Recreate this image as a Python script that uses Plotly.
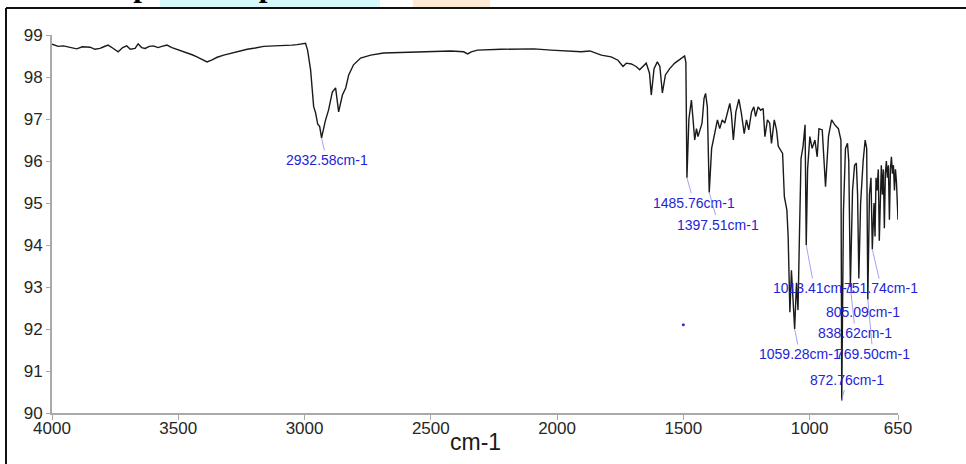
import plotly.graph_objects as go

# IR spectrum of pure lumefantrine: wavenumber (cm-1) vs transmittance (%T)
wavenumber = [
    4000, 3992, 3975, 3955, 3930, 3902, 3880, 3849, 3830, 3810, 3795, 3778,
    3760, 3738, 3720, 3704, 3690, 3671, 3659, 3645, 3631, 3615, 3599, 3580,
    3565, 3545, 3525, 3505, 3485, 3466, 3445, 3426, 3405, 3386, 3366, 3346,
    3320, 3294, 3260, 3227, 3195, 3162, 3120, 3083, 3050, 3029, 3010, 2996,
    2988, 2976, 2964, 2956, 2948, 2940, 2932.58, 2918, 2905, 2890, 2877, 2865,
    2850, 2837, 2825, 2806, 2778, 2738, 2687, 2620, 2553, 2490, 2421, 2370,
    2354, 2340, 2315, 2222, 2150, 2091, 2024, 1960, 1905, 1870, 1850, 1825,
    1786, 1759, 1739, 1726, 1706, 1687, 1673, 1660, 1647, 1634, 1627, 1616,
    1603, 1593, 1583, 1571, 1554, 1534, 1519, 1505, 1495, 1490, 1485.76, 1478,
    1472, 1468, 1462, 1455, 1448, 1442, 1434, 1426, 1418, 1412, 1405, 1397.51,
    1388, 1382, 1373, 1365, 1356, 1346, 1336, 1325, 1316, 1310, 1302, 1292,
    1280, 1270, 1259, 1250, 1241, 1230, 1221, 1214, 1204, 1194, 1184, 1177,
    1167, 1158, 1151, 1140, 1131, 1124, 1114, 1107, 1100, 1090, 1085, 1078,
    1072, 1066, 1059.28, 1052, 1046, 1040, 1034, 1026, 1018, 1013.41, 1008, 999,
    990, 979, 970, 963, 950, 937, 925, 913, 900, 886, 876, 872.76,
    866, 858, 850, 845, 838.62, 830, 822, 815, 810, 805.09, 798, 788,
    780, 774, 769.50, 763, 757, 751.74, 745, 741, 737, 733, 728, 724,
    720, 716, 712, 708, 704, 700, 696, 692, 688, 684, 680, 676,
    672, 668, 664, 660, 656, 652, 650,
]
transmittance = [
    98.78, 98.76, 98.73, 98.74, 98.70, 98.67, 98.72, 98.71, 98.66, 98.68, 98.72, 98.76,
    98.69, 98.60, 98.70, 98.74, 98.66, 98.68, 98.79, 98.70, 98.68, 98.73, 98.74, 98.70,
    98.73, 98.76, 98.70, 98.66, 98.62, 98.58, 98.53, 98.48, 98.41, 98.36, 98.41, 98.47,
    98.52, 98.56, 98.62, 98.66, 98.69, 98.73, 98.74, 98.76, 98.76, 98.77, 98.79, 98.80,
    98.64, 98.17, 97.30, 97.14, 96.88, 96.82, 96.55, 96.95, 97.21, 97.64, 97.74, 97.17,
    97.57, 97.74, 98.05, 98.29, 98.45, 98.52, 98.57, 98.58, 98.59, 98.60, 98.62, 98.60,
    98.55, 98.60, 98.64, 98.66, 98.67, 98.67, 98.64, 98.62, 98.60, 98.62, 98.57, 98.52,
    98.48, 98.40, 98.25, 98.33, 98.31, 98.25, 98.17, 98.26, 98.33, 98.09, 97.57, 98.20,
    98.36, 98.25, 97.62, 98.05, 98.20, 98.33, 98.40, 98.47, 98.50, 98.35, 95.60, 97.00,
    97.29, 97.45, 97.02, 96.50, 96.77, 96.58, 96.74, 96.90, 97.49, 97.61, 97.29, 95.25,
    96.30, 96.50, 96.74, 96.98, 96.77, 96.98, 96.90, 97.17, 97.37, 97.13, 96.50, 97.17,
    97.47, 97.13, 96.65, 96.98, 96.74, 97.17, 97.29, 97.06, 97.29, 97.21, 97.25, 96.58,
    96.98, 96.90, 96.42, 96.98, 96.74, 96.35, 96.26, 96.18, 95.15, 94.83, 94.20, 92.40,
    93.40, 92.60, 92.00, 93.10, 92.45, 94.30, 96.06, 96.35, 96.86, 94.00, 95.80, 96.58,
    96.30, 96.50, 96.10, 96.77, 96.74, 95.39, 96.60, 96.98, 96.86, 96.77, 96.50, 90.30,
    94.80, 96.30, 96.42, 96.00, 93.00, 95.30, 95.90, 95.95, 95.20, 93.20, 95.00, 96.00,
    96.50, 96.30, 92.70, 95.20, 95.60, 93.90, 95.00, 94.20, 95.60, 95.30, 95.80, 94.10,
    95.50, 95.90, 95.20, 95.80, 94.40, 95.70, 96.00, 95.60, 95.90, 94.60, 95.80, 96.10,
    95.70, 95.90, 95.30, 95.80, 95.50, 95.00, 94.60,
]

# labelled absorption bands
peak_wavenumbers = [2932.58, 1485.76, 1397.51, 1013.41, 751.74, 805.09,
                    838.62, 1059.28, 769.50, 872.76]
peak_labels = ["2932.58cm-1", "1485.76cm-1", "1397.51cm-1", "1013.41cm-1",
               "751.74cm-1", "805.09cm-1", "838.62cm-1", "1059.28cm-1",
               "769.50cm-1", "872.76cm-1"]

# stray cursor mark left on the plot
cursor_wavenumber = [1500]
cursor_transmittance = [92.1]

x_ticks = [4000, 3500, 3000, 2500, 2000, 1500, 1000, 650]
y_ticks = [90, 91, 92, 93, 94, 95, 96, 97, 98, 99]
x_title = "cm-1"

# label offsets (pixels) from each band minimum
label_offsets = [(5, 22), (7, 25), (9, 32), (8, 43), (9, 39), (4, 33),
                 (5, 46), (5, 25), (5, 54), (5, -20)]

W, H = 966, 464
L, R, T, B = 52, 68, 35, 51
PW, PH = W - L - R, H - T - B


def px_x(px):
    return (px - L) / PW


def px_y(py):
    return (H - B - py) / PH


fig = go.Figure()
fig.add_trace(go.Scatter(
    x=wavenumber, y=transmittance, mode="lines",
    line=dict(color="#1a1a1a", width=1.4), hoverinfo="skip", showlegend=False,
))
fig.add_trace(go.Scatter(
    x=cursor_wavenumber, y=cursor_transmittance, mode="markers",
    marker=dict(color="#2b2bdc", size=3), hoverinfo="skip", showlegend=False,
))

lookup = dict(zip(wavenumber, transmittance))
annotations = []
for wn, text, (ax, ay) in zip(peak_wavenumbers, peak_labels, label_offsets):
    annotations.append(dict(
        x=wn, y=lookup[wn], xref="x", yref="y", text=text,
        showarrow=True, arrowhead=0, arrowwidth=0.8, arrowcolor="#8a8af0",
        ax=ax, ay=ay, standoff=0, startstandoff=0,
        font=dict(family="Liberation Sans", size=14, color="#2424d6"),
    ))

# x-axis caption under the tick labels
annotations.append(dict(
    x=0.5, y=px_y(442), xref="paper", yref="paper",
    xanchor="center", yanchor="middle", showarrow=False, text=x_title,
    font=dict(family="Liberation Sans", size=23, color="#1a1a1a"),
))

# section heading running off the top edge
annotations.append(dict(
    x=px_x(2), y=px_y(5), xref="paper", yref="paper",
    xanchor="left", yanchor="bottom", showarrow=False,
    text="<b>3.4.2 IR Spectra of pure Lumefantrine</b>",
    font=dict(family="Liberation Serif", size=31, color="#000000"),
))

shapes = [
    dict(type="rect", xref="paper", yref="paper", layer="below",
         x0=px_x(160), x1=px_x(380), y0=px_y(7), y1=px_y(-2),
         fillcolor="#d4fafc", line=dict(width=0)),
    dict(type="rect", xref="paper", yref="paper", layer="below",
         x0=px_x(413), x1=px_x(490), y0=px_y(8), y1=px_y(-2),
         fillcolor="#fde8d6", line=dict(width=0)),
    dict(type="line", xref="paper", yref="paper",
         x0=px_x(6), x1=px_x(970), y0=px_y(8), y1=px_y(8),
         line=dict(color="#111111", width=2)),
    dict(type="line", xref="paper", yref="paper",
         x0=px_x(6), x1=px_x(6), y0=px_y(8), y1=px_y(470),
         line=dict(color="#111111", width=2)),
]

axis_font = dict(family="Liberation Sans", size=17, color="#262626")
fig.update_layout(
    width=W, height=H, autosize=False,
    margin=dict(l=L, r=R, t=T, b=B, pad=0),
    paper_bgcolor="white", plot_bgcolor="white",
    annotations=annotations, shapes=shapes,
    xaxis=dict(
        range=[4000, 650], tickvals=x_ticks, ticktext=[str(v) for v in x_ticks],
        showgrid=False, zeroline=False, showline=True, linecolor="#a9a9a9",
        linewidth=2, ticks="outside", ticklen=5, tickcolor="#a9a9a9", tickwidth=1,
        tickfont=axis_font, ticklabelstandoff=-6, automargin=False,
    ),
    yaxis=dict(
        range=[90, 99], tickvals=y_ticks, showgrid=False, zeroline=False,
        showline=True, linecolor="#a9a9a9", linewidth=2, ticks="outside",
        ticklen=4, tickcolor="#a9a9a9", tickwidth=1, tickfont=axis_font,
        automargin=False,
    ),
)

fig.write_html("out.html")
